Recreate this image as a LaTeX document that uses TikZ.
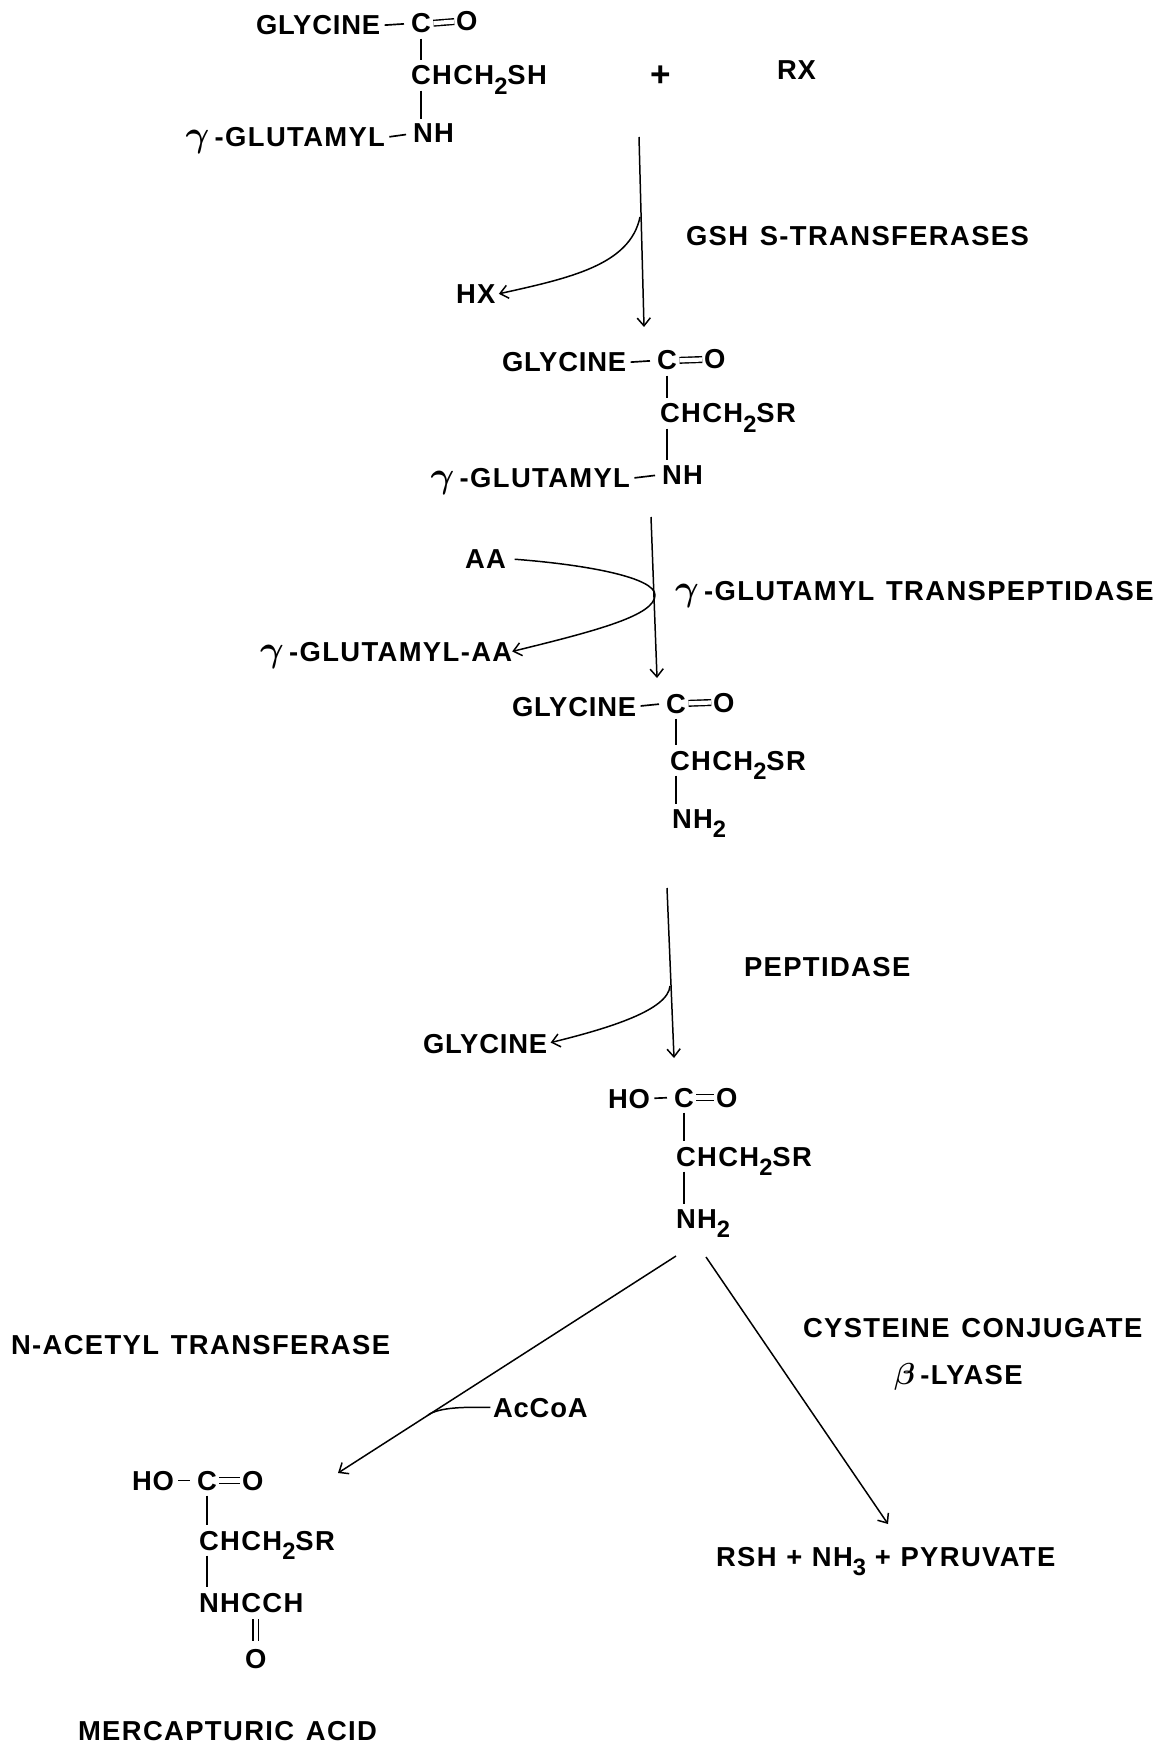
\documentclass[tikz,border=0pt]{standalone}
\usepackage{fontspec}
\setmainfont{Liberation Sans}
\newfontfamily\atomfont[LetterSpace=3]{Liberation Sans}
\newfontfamily\labelfont[LetterSpace=5,WordSpace=1.3]{Liberation Sans}
\usepackage{tikz}
\usetikzlibrary{arrows.meta}
\tikzset{
    atom/.style={font=\fontsize{15.6}{18}\selectfont\bfseries\atomfont, inner sep=0pt, outer xsep=0pt, outer ysep=3.2pt, text depth=0pt, anchor=base west},
    tag/.style={atom, font=\fontsize{15.6}{18}\selectfont\bfseries\labelfont},
    tagend/.style={tag, anchor=base east},
    bond/.style={line width=0.95pt},
    hbond/.style={bond, shorten <=2.5pt, shorten >=4pt},
    dblbond/.style={line width=0.8pt, double, double distance=2.4pt, shorten <=1.5pt, shorten >=1pt},
    pathway/.style={line width=0.85pt, -{Straight Barb[length=4.5pt,width=7.5pt]}},
    feed/.style={line width=0.85pt}
}
\newcommand{\subtwo}{\raisebox{-5.2pt}{\fontsize{13.5}{13.5}\selectfont 2}}
\newcommand{\subthree}{\raisebox{-5.2pt}{\fontsize{13.5}{13.5}\selectfont 3}}
\newcommand{\gam}{{\fontsize{20}{20}\selectfont\boldmath$\gamma$}\hspace{3pt}}
\newcommand{\bet}{{\fontsize{17}{17}\selectfont\boldmath$\beta$}\hspace{3pt}}

\begin{document}
\begin{tikzpicture}[x=0.02cm, y=-0.02cm]
    \useasboundingbox (0,0) rectangle (1164,1746);

    % ---------------- glutathione + RX ----------------
    \node[atom] (gly1) at (256,35) {GLYCINE};
    \node[atom] (c1) at (411,33) {C};
    \node[atom] (o1) at (456,31) {O};
    \node[tag] (chch1) at (411,85) {CHCH\subtwo SH};
    \node[tag] (nh1) at (413,143) {NH};
    \node[tagend] (glu1) at (385,147) {\gam-GLUTAMYL};
    \node[atom, font=\fontsize{20}{20}\selectfont\bfseries] (plus) at (650,87) {+};
    \node[atom] (rx) at (777,80) {RX};

    % ---------------- first step ----------------
    \node[tag] (gst) at (686,246) {GSH S-TRANSFERASES};
    \node[tag] (hx) at (456,304) {HX};
    \coordinate (top1) at (639,137);
    \coordinate (tip1) at (644,327);
    \coordinate (fork1) at (640,217);
    \draw[pathway] (top1) -- (tip1);
    \draw[pathway, shorten >=2pt] (fork1) .. controls (630,265) and (570,278) .. (hx.east);

    % ---------------- GSR ----------------
    \node[atom] (gly2) at (502,372) {GLYCINE};
    \node[atom] (c2) at (657,370) {C};
    \node[atom] (o2) at (704,369) {O};
    \node[tag] (chch2) at (660,423) {CHCH\subtwo SR};
    \node[tag] (nh2) at (662,484) {NH};
    \node[tagend] (glu2) at (630,488) {\gam-GLUTAMYL};

    % ---------------- second step ----------------
    \node[tag] (aa) at (465,568) {AA};
    \node[tag] (gta) at (260,661) {\gam-GLUTAMYL-AA};
    \node[tag] (ggt) at (675,600) {\gam-GLUTAMYL TRANSPEPTIDASE};
    \coordinate (top2) at (651,517);
    \coordinate (tip2) at (657,678);
    \coordinate (fork2) at (655,595);
    \draw[pathway] (top2) -- (tip2);
    \draw[feed, shorten <=5pt] (aa.east) .. controls (590,565) and (655,578) .. (fork2);
    \draw[pathway] (fork2) .. controls (655,615) and (600,630) .. (gta.east);

    % ---------------- cysteinylglycine ----------------
    \node[atom] (gly3) at (512,716) {GLYCINE};
    \node[atom] (c3) at (666,713) {C};
    \node[atom] (o3) at (713,712) {O};
    \node[tag] (chch3) at (670,770) {CHCH\subtwo SR};
    \node[tag] (nh3) at (672,828) {NH\subtwo};

    % ---------------- third step ----------------
    \node[tag] (pep) at (744,976) {PEPTIDASE};
    \node[atom] (glyout) at (423,1053) {GLYCINE};
    \coordinate (top3) at (667,888);
    \coordinate (tip3) at (674,1058);
    \coordinate (fork3) at (670,986);
    \draw[pathway] (top3) -- (tip3);
    \draw[pathway, shorten >=2pt] (fork3) .. controls (668,1010) and (610,1028) .. (glyout.east);

    % ---------------- cysteine conjugate ----------------
    \node[atom] (ho4) at (608,1108) {HO};
    \node[atom] (c4) at (674,1107) {C};
    \node[atom] (o4) at (716,1107) {O};
    \node[tag] (chch4) at (676,1166) {CHCH\subtwo SR};
    \node[tag] (nh4) at (676,1228) {NH\subtwo};

    % ---------------- branches ----------------
    \node[tag] (nat) at (11,1354) {N-ACETYL TRANSFERASE};
    \node[tag] (lyase) at (803,1337) {CYSTEINE CONJUGATE};
    \node[tag] (beta) at (894,1384) {\bet-LYASE};
    \node[atom] (accoa) at (493,1417) {AcCoA};
    \node[tag] (prod) at (716,1566) {RSH\hspace{5.5pt}+\hspace{5.5pt}NH\subthree\hspace{5pt}+\hspace{5.5pt}PYRUVATE};
    \coordinate (topl) at (676,1256);
    \coordinate (tipl) at (338,1473);
    \coordinate (forkl) at (428,1415);
    \coordinate (topr) at (706,1257);
    \coordinate (tipr) at (888,1524);
    \draw[pathway] (topl) -- (tipl);
    \draw[pathway] (topr) -- (tipr);
    \draw[feed, shorten <=1.5pt] (accoa.west) .. controls (465,1407) and (440,1407) .. (forkl);

    % ---------------- mercapturic acid ----------------
    \node[atom] (ho5) at (132,1490) {HO};
    \node[atom] (c5) at (197,1490) {C};
    \node[atom] (o5) at (242,1490) {O};
    \node[tag] (chch5) at (199,1550) {CHCH\subtwo SR};
    \node[tag] (nh5) at (199,1612) {NHCCH};
    \node[atom] (o6) at (245,1668) {O};
    \node[tag] (mer) at (78,1740) {MERCAPTURIC ACID};

    % ---------------- bonds ----------------
    \foreach \i in {1,...,5} {
        \draw[dblbond] (c\i.east) -- (o\i.west);
        \draw[bond] (c\i.south) -- (c\i.south |- chch\i.north);
        \draw[bond] (c\i.south |- chch\i.south) -- (c\i.south |- nh\i.north);
    }
    \foreach \a/\b in {gly1/c1, glu1/nh1, gly2/c2, glu2/nh2, gly3/c3, ho4/c4, ho5/c5}
        \draw[hbond] (\a.east) -- (\b.west);
    \draw[dblbond] (o6.north) -- (o6.north |- nh5.south);
\end{tikzpicture}
\end{document}
